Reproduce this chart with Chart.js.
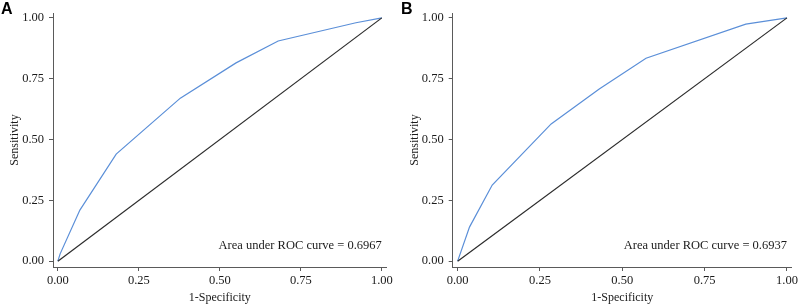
<!DOCTYPE html>
<html>
<head>
<meta charset="utf-8">
<script src="https://cdn.jsdelivr.net/npm/chart.js@4.4.1/dist/chart.umd.min.js"></script>
<style>
  html, body { margin: 0; padding: 0; background: #fff; }
  #wrap { position: relative; width: 800px; height: 307px; }
  .panel { position: absolute; top: 0; width: 400px; height: 307px; }
</style>
</head>
<body>
<div id="wrap">
  <div class="panel" style="left:0"><canvas id="cA" width="400" height="307"></canvas></div>
  <div class="panel" style="left:400px"><canvas id="cB" width="400" height="307"></canvas></div>
</div>
<script>
// ---- data ----
const panelLabels = ["A", "B"];
const aucTexts = ["Area under ROC curve = 0.6967", "Area under ROC curve = 0.6937"];
const tickValues = [0, 0.25, 0.5, 0.75, 1];
const xTitle = "1-Specificity";
const yTitle = "Sensitivity";

const rocA_fpr  = [0, 0.007, 0.068, 0.18, 0.378, 0.55, 0.68, 0.92, 1];
const rocA_sens = [0, 0.03, 0.21, 0.44, 0.67, 0.815, 0.905, 0.98, 1];

const rocB_fpr  = [0, 0.036, 0.105, 0.284, 0.43, 0.572, 0.875, 1];
const rocB_sens = [0, 0.14, 0.313, 0.564, 0.708, 0.834, 0.974, 1];

const refX = [0, 1];
const refY = [0, 1];

// ---- helpers ----
function pts(xs, ys) { return xs.map((x, i) => ({ x: x, y: ys[i] })); }

const AXIS_COLOR = '#5a5a5a';
const SERIF = "'Liberation Serif', 'Times New Roman', serif";

function makeChart(id, fpr, sens, label, auc, yWidth, padRight) {
  const annot = {
    id: 'annot' + id,
    afterDraw(chart) {
      const ctx = chart.ctx;
      const xs = chart.scales.x, ys = chart.scales.y;
      ctx.save();
      ctx.fillStyle = '#1a1a1a';
      ctx.font = "12.5px " + SERIF;
      ctx.textAlign = 'right';
      ctx.textBaseline = 'middle';
      ctx.fillText(auc, xs.getPixelForValue(1), ys.getPixelForValue(0.062));
      ctx.font = "bold 16px 'Liberation Sans', Arial, sans-serif";
      ctx.textAlign = 'left';
      ctx.textBaseline = 'alphabetic';
      ctx.fillStyle = '#000';
      ctx.fillText(label, 1, 13.5);
      ctx.restore();
    }
  };
  const fixTicks = (scale) => { scale.ticks = tickValues.map(v => ({ value: v })); };
  return new Chart(document.getElementById(id), {
    type: 'scatter',
    data: {
      datasets: [
        { data: pts(refX, refY), showLine: true, borderColor: '#2b2b2b', borderWidth: 1.2, pointRadius: 0, fill: false },
        { data: pts(fpr, sens), showLine: true, borderColor: '#5b8fd8', borderWidth: 1.2, pointRadius: 0, fill: false, tension: 0 }
      ]
    },
    plugins: [annot],
    options: {
      responsive: false,
      animation: false,
      events: [],
      layout: { padding: { left: 0, top: 13, right: padRight, bottom: 0 } },
      plugins: { legend: { display: false }, tooltip: { enabled: false } },
      scales: {
        x: {
          type: 'linear', min: -0.015, max: 1.015,
          afterBuildTicks: fixTicks,
          afterFit: (s) => { s.height = 40; },
          grid: { display: true, drawOnChartArea: false, drawTicks: true, tickLength: 4, color: AXIS_COLOR },
          border: { display: true, color: AXIS_COLOR, width: 1 },
          ticks: { color: '#1a1a1a', padding: 2, maxRotation: 0, font: { family: SERIF, size: 12.5 }, callback: (v) => Number(v).toFixed(2) },
          title: { display: true, text: xTitle, color: '#1a1a1a', padding: { top: 0, bottom: 2 }, font: { family: SERIF, size: 12 } }
        },
        y: {
          type: 'linear', min: -0.024, max: 1.02,
          afterBuildTicks: fixTicks,
          afterFit: (s) => { s.width = yWidth; },
          grid: { display: true, drawOnChartArea: false, drawTicks: true, tickLength: 4, color: AXIS_COLOR },
          border: { display: true, color: AXIS_COLOR, width: 1 },
          ticks: { color: '#1a1a1a', padding: 5, font: { family: SERIF, size: 12.5 }, callback: (v) => Number(v).toFixed(2) },
          title: { display: true, text: yTitle, color: '#1a1a1a', padding: { top: 8, bottom: 0 }, font: { family: SERIF, size: 12 } }
        }
      }
    }
  });
}

makeChart('cA', rocA_fpr, rocA_sens, panelLabels[0], aucTexts[0], 53, 13.3);
makeChart('cB', rocB_fpr, rocB_sens, panelLabels[1], aucTexts[1], 52.7, 7.4);
</script>
</body>
</html>
